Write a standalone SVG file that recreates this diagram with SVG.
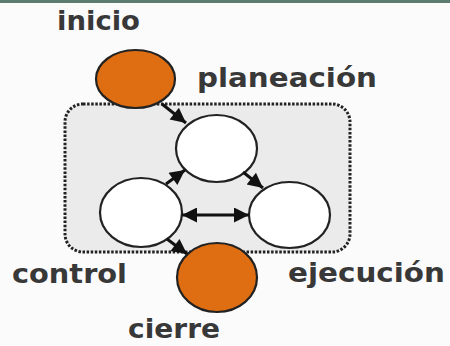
<svg xmlns="http://www.w3.org/2000/svg" width="450" height="346" viewBox="0 0 450 346">
<defs>
<marker id="ah" viewBox="0 0 10 10" refX="10" refY="5" markerWidth="19" markerHeight="15" markerUnits="userSpaceOnUse" orient="auto-start-reverse">
<path d="M0,0 L10,5 L0,10 z" fill="#111"/>
</marker>
<style>
.lbl{font-family:"DejaVu Sans",Verdana,sans-serif;font-weight:bold;font-size:27px;fill:#383838}
.term{fill:#df6e12;stroke:#222;stroke-width:2.2}
.step{fill:#fff;stroke:#222;stroke-width:2.2}
.conn{stroke:#111;stroke-width:3;fill:none}
</style>
</defs>
<rect x="0" y="0" width="450" height="346" fill="#fbfbfb"/>
<rect x="0" y="0" width="450" height="3" fill="#5e7b70"/>
<g id="grupo">
<rect x="65" y="104" width="285" height="148" rx="18" fill="#ebebeb" stroke="#222" stroke-width="3" stroke-dasharray="2.5 1.6"/>
</g>
<g id="inicio">
<ellipse class="term" cx="135.5" cy="79" rx="39.5" ry="29"/>
<text class="lbl" x="57" y="30" textLength="83" lengthAdjust="spacingAndGlyphs">inicio</text>
</g>
<g id="planeacion">
<ellipse class="step" cx="216.5" cy="148.5" rx="40.5" ry="33.5"/>
<text class="lbl" x="197" y="87" textLength="180" lengthAdjust="spacingAndGlyphs">planeación</text>
</g>
<g id="control">
<ellipse class="step" cx="141" cy="212.5" rx="41" ry="34.5"/>
<text class="lbl" x="12" y="283" textLength="115" lengthAdjust="spacingAndGlyphs">control</text>
</g>
<g id="ejecucion">
<ellipse class="step" cx="289.5" cy="215" rx="40.5" ry="33"/>
<text class="lbl" x="288" y="282" textLength="157" lengthAdjust="spacingAndGlyphs">ejecución</text>
</g>
<g id="cierre">
<ellipse class="term" cx="217" cy="277.5" rx="40" ry="34.5"/>
<text class="lbl" x="128" y="338" textLength="92" lengthAdjust="spacingAndGlyphs">cierre</text>
</g>
<g id="conectores">
<line class="conn" x1="162" y1="104" x2="186" y2="123" marker-end="url(#ah)"/>
<line class="conn" x1="166" y1="184" x2="185" y2="170" marker-end="url(#ah)"/>
<line class="conn" x1="243" y1="172" x2="263" y2="188" marker-end="url(#ah)"/>
<line class="conn" x1="182" y1="215" x2="249" y2="215" marker-start="url(#ah)" marker-end="url(#ah)"/>
<line class="conn" x1="167" y1="239" x2="187" y2="254" marker-end="url(#ah)"/>
</g>
</svg>
